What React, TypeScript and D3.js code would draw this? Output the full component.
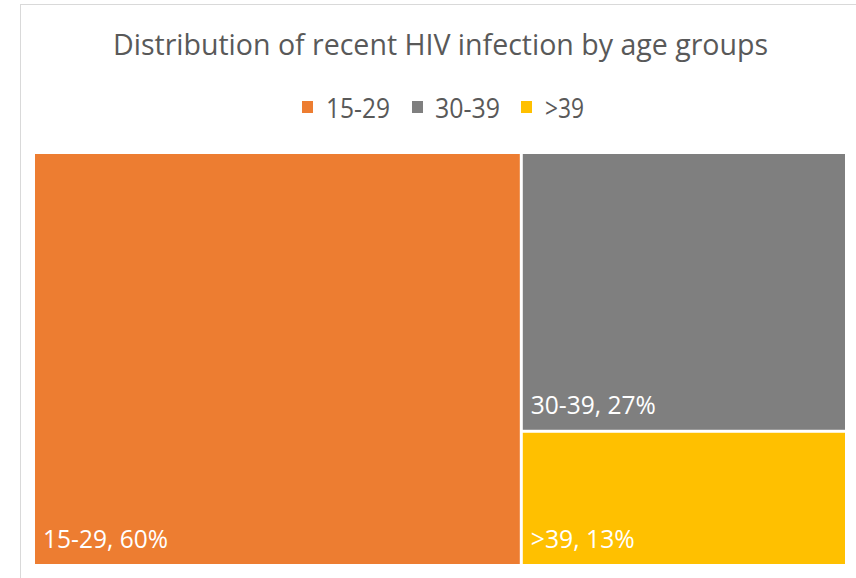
import React from "react";
import * as d3 from "d3";

const categories = ["15-29", "30-39", ">39"];
const values = [60, 27, 13];
const colors = ["#ED7D31", "#7F7F7F", "#FFC000"];
const title = "Distribution of recent HIV infection by age groups";

export default function App() {
  const W = 856, H = 578;
  const x0 = 35, y0 = 154, x1 = 845, y1 = 564;
  const root = d3
    .hierarchy({ children: categories.map((c, i) => ({ name: c, value: values[i], color: colors[i] })) } as any)
    .sum((d: any) => d.value || 0);
  d3.treemap().tile(d3.treemapSquarify).size([x1 - x0, y1 - y0]).paddingInner(3)(root as any);
  const leaves = root.leaves() as any[];
  const labelLens: Record<string, number> = { "15-29": 125, "30-39": 125, ">39": 104 };
  const legendItems = [
    { sx: 302, tx: 326, tl: 64 },
    { sx: 412, tx: 435, tl: 65 },
    { sx: 521, tx: 545, tl: 39 },
  ];
  const font = "'Open Sans', 'Noto Sans', sans-serif";
  return (
    <svg width={W} height={H} style={{ position: "absolute", left: 0, top: 0 }}>
      <rect x={0} y={0} width={W} height={H} fill="#fff" />
      <rect x={20.5} y={4.5} width={900} height={700} fill="#fff" stroke="#d9d9d9" strokeWidth={1} />
      <text x={113} y={55} fontFamily={font} fontSize={30} fill="#595959" textLength={655} lengthAdjust="spacingAndGlyphs">
        {title}
      </text>
      {categories.map((c, i) => (
        <g key={c}>
          <rect x={legendItems[i].sx} y={101} width={11} height={12} fill={colors[i]} />
          <text x={legendItems[i].tx} y={118} fontFamily={font} fontSize={27} fill="#595959" textLength={legendItems[i].tl} lengthAdjust="spacingAndGlyphs">
            {c}
          </text>
        </g>
      ))}
      <g transform={`translate(${x0},${y0})`}>
        {leaves.map((l) => (
          <g key={l.data.name}>
            <rect x={l.x0} y={l.y0} width={l.x1 - l.x0} height={l.y1 - l.y0} fill={l.data.color} />
            <text
              x={l.x0 + 8}
              y={l.y1 - 16}
              fontFamily={font}
              fontSize={26}
              fill="#fff"
              textLength={labelLens[l.data.name]}
              lengthAdjust="spacingAndGlyphs"
            >
              {`${l.data.name}, ${Math.round((l.value / d3.sum(values)) * 100)}%`}
            </text>
          </g>
        ))}
      </g>
    </svg>
  );
}
